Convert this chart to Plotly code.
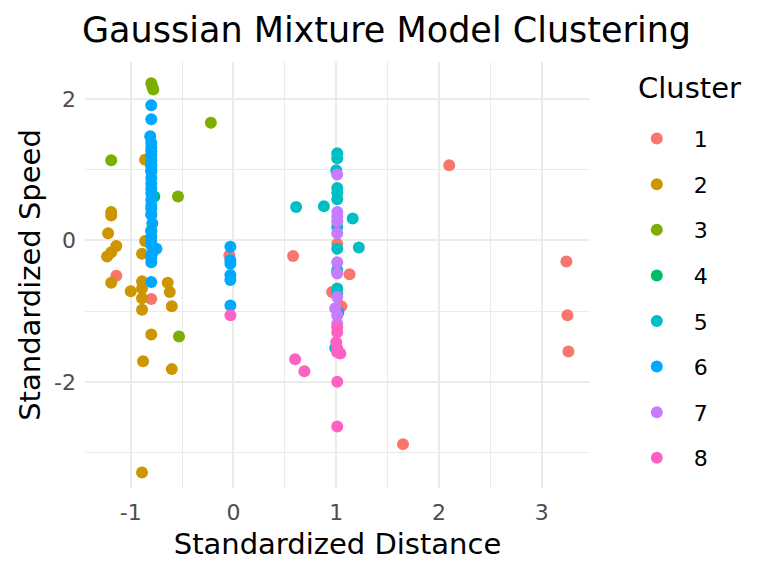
import plotly.graph_objects as go

cluster_names = ["1", "2", "3", "4", "5", "6", "7", "8"]
cluster_colors = ["#F8766D", "#CD9600", "#7CAE00", "#00BE67", "#00BFC4", "#00A9FF", "#C77CFF", "#FF61C3"]

c1_x = [2.10, 3.24, 3.25, 3.26, 1.65, 0.58, -0.04, -1.14, -0.80, 1.01, 1.13, 0.96, 1.05]
c1_y = [1.06, -0.30, -1.06, -1.57, -2.88, -0.22, -0.21, -0.50, -0.83, -0.05, -0.48, -0.73, -0.93]

c2_x = [-0.86, -1.19, -1.19, -1.22, -1.14, -1.19, -1.23, -0.86, -0.89, -1.19, -1.00, -0.89, -0.89,
        -0.89, -0.89, -0.64, -0.62, -0.60, -0.80, -0.88, -0.60, -0.89]
c2_y = [1.14, 0.40, 0.35, 0.10, -0.08, -0.17, -0.23, -0.01, -0.19, -0.60, -0.72, -0.58, -0.68,
        -0.82, -0.98, -0.60, -0.73, -0.93, -1.33, -1.71, -1.82, -3.28]

c3_x = [-0.80, -0.79, -0.78, -0.22, -1.19, -0.54, -0.53, -0.79, -0.80, -0.80]
c3_y = [2.22, 2.17, 2.13, 1.66, 1.13, 0.62, -1.36, 0.63, 0.37, 0.14]

c4_x = [-0.80, -0.80, -0.80, -0.77]
c4_y = [1.14, 1.06, 0.99, 0.62]

c5_x = [1.01, 1.01, 1.00, 1.01, 1.01, 1.01, 0.61, 0.88, 1.16, 1.01, 1.22, 1.01, 1.01, 1.01,
        1.01, 1.01, 0.99]
c5_y = [1.23, 1.16, 0.99, 0.74, 0.67, 0.58, 0.47, 0.48, 0.31, 0.19, -0.10, -0.12, -0.42, -0.45,
        -0.68, -0.75, -1.52]

c6_x = [-0.80, -0.80, -0.81, -0.80, -0.80, -0.80, -0.80, -0.80, -0.80, -0.80, -0.80, -0.80,
        -0.80, -0.80, -0.80, -0.80, -0.80, -0.80, -0.79, -0.80, -0.80, -0.80, -0.80, -0.80,
        -0.80, -0.80, -0.80, -0.75, -0.78,
        -0.03, -0.03, -0.03, -0.03, -0.03, -0.03, 1.02]
c6_y = [1.91, 1.71, 1.47, 1.38, 1.31, 1.26, 1.20, 1.12, 1.05, 0.97, 0.88, 0.80,
        0.73, 0.66, 0.57, 0.49, 0.45, 0.36, 0.24, 0.13, 0.05, -0.02, -0.07, -0.21,
        -0.24, -0.31, -0.59, -0.12, -0.15,
        -0.09, -0.28, -0.33, -0.49, -0.56, -0.92, -1.02]

c7_x = [1.01, 1.01, 1.01, 1.01, 1.01, 1.01, 1.01, 1.01, 0.99, 1.01, 1.01]
c7_y = [0.93, 0.40, 0.33, 0.27, 0.10, -0.31, -0.47, -0.80, -0.96, -1.06, -1.18]

c8_x = [0.60, 0.69, 1.01, 1.01, -0.03, 1.01, 1.01, 1.00, 1.01, 1.01, 1.04]
c8_y = [-1.68, -1.85, -2.00, -2.63, -1.06, -1.23, -1.30, -1.44, -1.53, -1.58, -1.60]

xs = [c1_x, c2_x, c3_x, c4_x, c5_x, c6_x, c7_x, c8_x]
ys = [c1_y, c2_y, c3_y, c4_y, c5_y, c6_y, c7_y, c8_y]

x_ticks = [-1, 0, 1, 2, 3]
y_ticks = [-2, 0, 2]

fig = go.Figure()
for name, col, x, y in zip(cluster_names, cluster_colors, xs, ys):
    fig.add_trace(go.Scatter(
        x=x, y=y, mode="markers", name=name, legendgroup=name,
        marker=dict(color=col, size=12, line=dict(width=0)),
    ))

font_family = "DejaVu Sans"
grid = "#EBEBEB"
W, H = 760, 568  # page body has an 8px default margin
fig.update_layout(
    width=W, height=H,
    paper_bgcolor="white", plot_bgcolor="white",
    margin=dict(l=77, r=178, t=54, b=88, autoexpand=False),
    font=dict(family=font_family, color="black"),
    title=dict(text="Gaussian Mixture Model Clustering", x=74 / W, xref="container", xanchor="left",
               y=1 - 22 / H, yref="container", yanchor="middle",
               font=dict(size=35, color="black")),
    xaxis=dict(range=[-1.445, 3.47], tickvals=x_ticks, ticktext=[str(v) for v in x_ticks],
               showgrid=True, gridcolor=grid, gridwidth=2, zeroline=False, showline=False,
               ticks="", tickfont=dict(size=22, color="#4D4D4D"), ticklabelstandoff=9,
               minor=dict(showgrid=True, gridcolor=grid, gridwidth=1, dtick=0.5, tick0=0.5),
               title=dict(text="Standardized Distance", font=dict(size=29, color="black"), standoff=9)),
    yaxis=dict(range=[-3.50, 2.52], tickvals=y_ticks, ticktext=[str(v) for v in y_ticks],
               showgrid=True, gridcolor=grid, gridwidth=2, zeroline=False, showline=False,
               ticks="", tickfont=dict(size=22, color="#4D4D4D"), ticklabelstandoff=8,
               minor=dict(showgrid=True, gridcolor=grid, gridwidth=1, dtick=1, tick0=1),
               title=dict(text="Standardized Speed", font=dict(size=29, color="black"), standoff=4)),
    legend=dict(x=1.059, xanchor="left", y=0.869, yanchor="top", font=dict(size=22),
                traceorder="grouped", tracegroupgap=14, itemwidth=64, maxheight=560,
                bgcolor="rgba(0,0,0,0)"),
    annotations=[dict(text="Cluster", x=1.091, y=0.939, xref="paper", yref="paper",
                      xanchor="left", yanchor="middle", showarrow=False,
                      font=dict(size=29, color="black"))],
)

fig.write_html("out.html")
